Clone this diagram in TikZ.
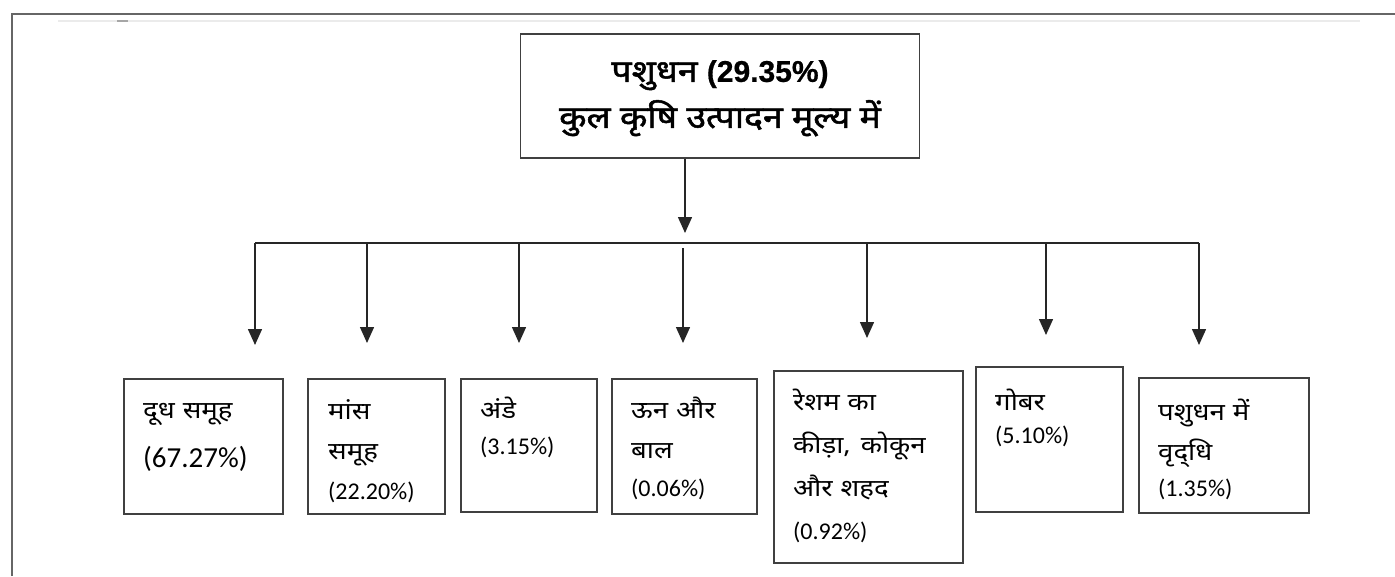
\documentclass[tikz,border=0pt]{standalone}
\usepackage{fontspec}
\setmainfont{Noto Sans}[Script=Devanagari, FakeStretch=1.15]
\newfontfamily\hindibold{Noto Sans}[Script=Devanagari, FakeBold=1.6, FakeStretch=1.15]
\newfontfamily\numfont{Carlito}
\newfontfamily\boldnum{Liberation Sans}[FakeBold=0.6]
\usetikzlibrary{arrows.meta}

\newcommand{\pct}[2][24]{{\numfont\fontsize{#1}{40}\selectfont(#2\%)}}

\tikzset{
  frameline/.style={draw=black!60, line width=1.5pt},
  catbox/.style={draw=black!75, line width=1.5pt, inner sep=0pt, anchor=north west},
  cattext/.style={anchor=base west, inner sep=0pt, text width=#1, align=left,
    font=\fontsize{24}{40}\selectfont},
  branch/.style={draw=black!85, line width=1.5pt},
  branch arrow/.style={branch, -{Triangle[width=14pt,length=16pt]}},
}

\begin{document}
\begin{tikzpicture}[x=1pt, y=-1pt]
  \useasboundingbox (0,0) rectangle (1395,576);
  % page frame
  \draw[frameline] (12,576) -- (12,14) -- (1395,14);
  \draw[black!8, line width=1.2pt] (58,21) -- (1360,21);
  \draw[black!35, line width=1.2pt] (117,21) -- (128,21);

  % top box
  \node[draw=black!75, line width=1.5pt, minimum width=399, minimum height=124,
    inner sep=0pt, align=center, text depth=4pt, font=\hindibold\fontsize{31}{45}\selectfont]
    (pashu) at (720,96) {पशुधन {\boldnum\bfseries\fontsize{30}{45}\selectfont (29.35\%)}\\[1pt] कुल कृषि उत्पादन मूल्य में};

  % branches
  \coordinate (hub) at (685,233);
  \coordinate (bl) at (255,243);
  \coordinate (br) at (1199,243);
  \draw[branch arrow] (pashu.south -| hub) -- (hub);
  \draw[branch] (bl) -- (br);
  \foreach \x/\y/\n in {255/345/1, 367/343/2, 519/343/3, 867/338/5, 1046/335/6, 1199/345/7}
    \draw[branch arrow] (\x,243) coordinate (top\n) -- (\x,\y) coordinate (tip\n);
  \coordinate (tip4) at (683,343);
  \draw[branch arrow] ([yshift=-5pt]tip4 |- br) -- (tip4);

  % categories
  \node[catbox, minimum width=159, minimum height=135] (dudh) at (123,378) {};
  \node[catbox, minimum width=137, minimum height=135] (maans) at (307,378) {};
  \node[catbox, minimum width=136, minimum height=133] (ande) at (460,378) {};
  \node[catbox, minimum width=145, minimum height=135] (oon) at (611,378) {};
  \node[catbox, minimum width=189, minimum height=192] (resham) at (773,370) {};
  \node[catbox, minimum width=147, minimum height=145] (gobar) at (975,366) {};
  \node[catbox, minimum width=170, minimum height=135] (vriddhi) at (1138,377) {};

  \node[cattext=140] (dudh-t) at (143,418) {दूध समूह\\[9pt]\pct[29]{67.27}};
  \node[cattext=120] (maans-t) at (328,419) {मांस\\समूह\\\pct{22.20}};
  \node[cattext=110] (ande-t) at (480,418) {अंडे\\[-4pt]\pct{3.15}};
  \node[cattext=120] (oon-t) at (631,418) {ऊन और\\बाल\\[-2pt]\pct{0.06}};
  \node[cattext=170, font=\fontsize{24}{43}\selectfont] (resham-t) at (793,410)
    {रेशम का\\कीड़ा,\hspace{10pt}कोकून\\और शहद\\\pct{0.92}};
  \node[cattext=120] (gobar-t) at (995,410) {गोबर\\[-7pt]\pct{5.10}};
  \node[cattext=150] (vriddhi-t) at (1158,420) {पशुधन में\\वृद्‌धि\\[-4pt]\pct{1.35}};
\end{tikzpicture}
\end{document}
